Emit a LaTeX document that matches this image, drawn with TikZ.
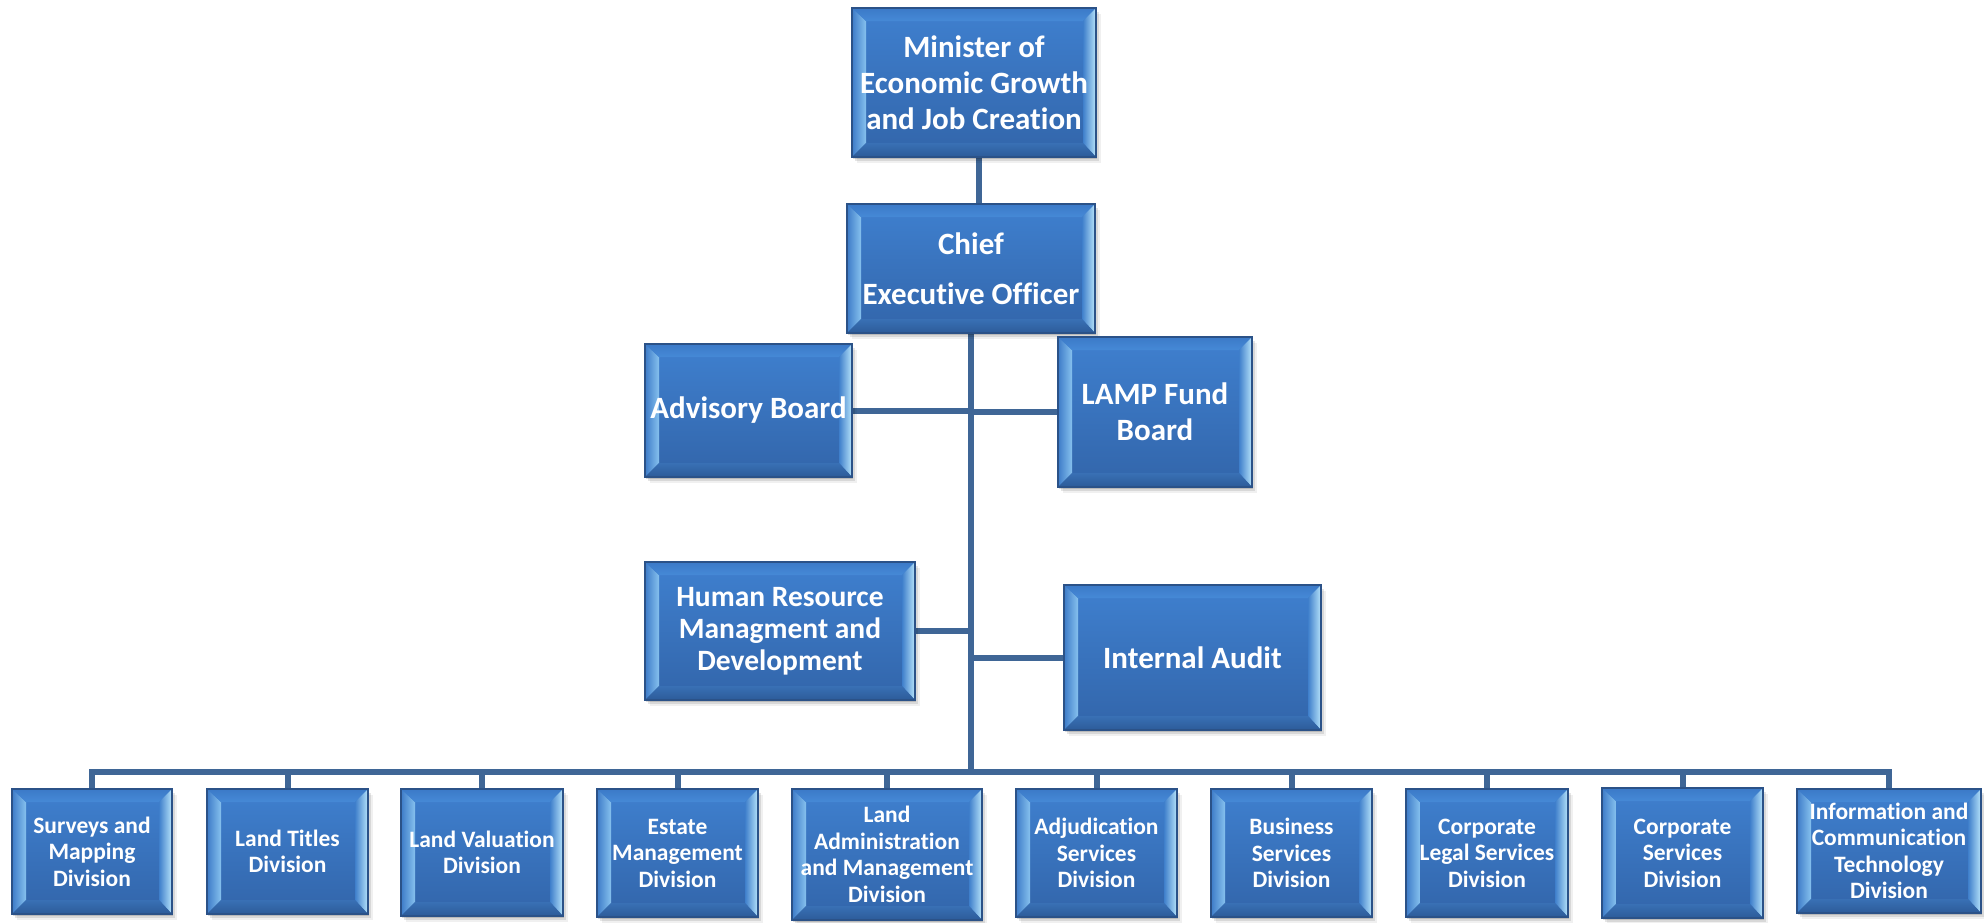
\documentclass[tikz,border=0pt]{standalone}
\usepackage{fontspec}
\setmainfont{Carlito}[Ligatures=CommonOff]
\usetikzlibrary{calc,shadows,backgrounds}

\definecolor{facetop}{HTML}{3F80CF}
\definecolor{facebot}{HTML}{3265AA}
\definecolor{rim}{HTML}{2B5288}
\definecolor{wire}{HTML}{3F6696}
\definecolor{bevLout}{HTML}{3D7BC8}
\definecolor{bevLin}{HTML}{86C1EE}
\definecolor{bevRin}{HTML}{3F7FCB}
\definecolor{bevRout}{HTML}{B6E3FA}
\definecolor{bevTout}{HTML}{3B7AC8}
\definecolor{bevTin}{HTML}{4689D6}
\definecolor{bevBin}{HTML}{3970B5}
\definecolor{bevBout}{HTML}{2C5B99}

\tikzset{
  orgbox/.style 2 args={
    rectangle, minimum width=#1pt, minimum height=#2pt, inner sep=0pt,
    top color=facetop, bottom color=facebot,
    draw=rim, line width=1.4pt, text=white, align=center,
    general shadow={shadow xshift=1pt, shadow yshift=-2pt, fill=black, opacity=0.14},
    general shadow={shadow xshift=3pt, shadow yshift=-4pt, fill=black, opacity=0.10},
    general shadow={shadow xshift=5pt, shadow yshift=-6pt, fill=black, opacity=0.06},
    path picture={
      \coordinate (bsw) at (path picture bounding box.south west);
      \coordinate (bne) at (path picture bounding box.north east);
      \coordinate (isw) at ($(bsw)+(14pt,14pt)$);
      \coordinate (ine) at ($(bne)+(-13pt,-13pt)$);
      % left bevel
      \shade[left color=bevLout, right color=bevLin]
        (bsw) -- (bsw|-bne) -- (isw|-ine) -- (isw) -- cycle;
      % top bevel
      \shade[top color=bevTout, bottom color=bevTin]
        (bsw|-bne) -- (bne) -- (ine) -- (isw|-ine) -- cycle;
      % right bevel
      \shade[left color=bevRin, right color=bevRout]
        (bne) -- (bne|-bsw) -- (ine|-isw) -- (ine) -- cycle;
      % bottom bevel
      \shade[top color=bevBin, bottom color=bevBout]
        (bne|-bsw) -- (bsw) -- (isw) -- (ine|-isw) -- cycle;
    }
  },
  bigtext/.style={font=\bfseries\fontsize{31pt}{36pt}\selectfont},
  midtext/.style={font=\bfseries\fontsize{29.5pt}{32pt}\selectfont},
  smalltext/.style={font=\bfseries\fontsize{23.5pt}{26.5pt}\selectfont},
  link/.style={draw=wire, line width=6pt}
}

\begin{document}
\begin{tikzpicture}[x=1pt,y=-1pt]
\useasboundingbox (0,0) rectangle (1984,922);

% top of the hierarchy
\node[orgbox={244}{149}, bigtext] (min) at (974,82.5) {Minister of\\Economic Growth\\and Job Creation};
\node[orgbox={248}{129}, bigtext] (ceo) at (971,268.5) {Chief\\[14pt]Executive Officer};

% boards and staff units beside the trunk
\node[orgbox={207}{133}, bigtext] (adv) at (748.5,410.5) {Advisory Board};
\node[orgbox={194}{150}, bigtext] (lamp) at (1155,412) {LAMP Fund\\Board};
\node[orgbox={270}{138}, midtext] (hr) at (780,631) {Human Resource\\Managment and\\Development};
\node[orgbox={257}{145}, bigtext] (audit) at (1192.5,657.5) {Internal Audit};

% divisions
\node[orgbox={160}{125}, smalltext] (surv) at (92,851.5) {Surveys and\\Mapping\\Division};
\node[orgbox={161}{125}, smalltext] (titl) at (287.5,851.5) {Land Titles\\Division};
\node[orgbox={162}{127}, smalltext] (valu) at (482,852.5) {Land Valuation\\Division};
\node[orgbox={161}{128}, smalltext] (esta) at (677.5,853) {Estate\\Management\\Division};
\node[orgbox={190}{131}, smalltext] (ladm) at (887,854.5) {Land\\Administration\\and Management\\Division};
\node[orgbox={161}{128}, smalltext] (adju) at (1096.5,853) {Adjudication\\Services\\Division};
\node[orgbox={161}{128}, smalltext] (busi) at (1291.5,853) {Business\\Services\\Division};
\node[orgbox={162}{128}, smalltext] (legl) at (1487,853) {Corporate\\Legal Services\\Division};
\node[orgbox={161}{130}, smalltext] (corp) at (1682.5,853) {Corporate\\Services\\Division};
\node[orgbox={184}{124}, smalltext] (ict) at (1889,851) {Information and\\Communication\\Technology\\Division};

\coordinate (bus) at (971,772);

\begin{scope}[on background layer]
  \path[link] ([xshift=5pt]min.south) -- ([xshift=5pt]min.south |- ceo.north);
  \path[link] (ceo.south) -- (bus);
  \path[link] (adv.east) -- (adv.east -| bus);
  \path[link] (lamp.west) -- (lamp.west -| bus);
  \path[link] (hr.east) -- (hr.east -| bus);
  \path[link] (audit.west) -- (audit.west -| bus);
  \path[link] (surv.north) -- (surv.north |- bus) -- (ict.north |- bus) -- (ict.north);
  \foreach \d in {titl,valu,esta,ladm,adju,busi,legl,corp}
    \path[link] (\d.north) -- (\d.north |- bus);
\end{scope}
\end{tikzpicture}
\end{document}
